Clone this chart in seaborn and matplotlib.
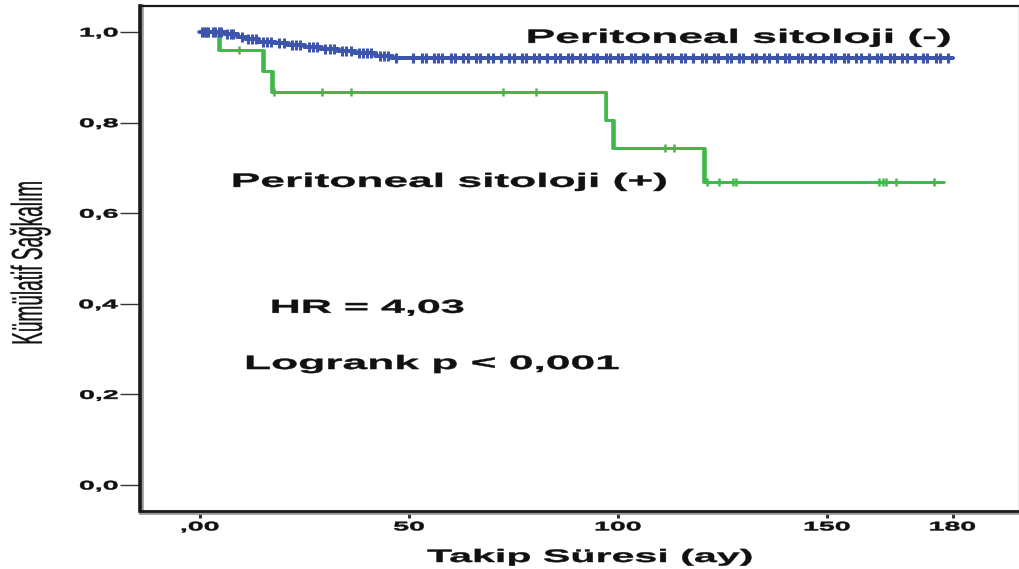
import numpy as np
import pandas as pd
import matplotlib
matplotlib.use("Agg")
import matplotlib.pyplot as plt
import seaborn as sns
from matplotlib.patheffects import AbstractPathEffect, Stroke, Normal
from matplotlib.transforms import Affine2D

# Kaplan-Meier steps: peritoneal cytology negative
neg_time = [0, 6, 9, 11, 14, 18, 21, 25, 29, 33, 37, 42, 46, 180]
neg_surv = [1.0, 0.995, 0.989, 0.984, 0.979, 0.975, 0.971, 0.967, 0.962, 0.957,
            0.953, 0.948, 0.942, 0.942]
neg_censor = [0.5, 1, 1.5, 2, 3, 3.5, 4.5, 5, 6.5, 7.5, 8, 10, 11.5, 12.5, 13.5,
              15, 16, 17, 19, 20, 22, 23, 24, 26, 27, 28, 30, 31, 32, 34, 35, 36,
              38, 39, 40, 41, 43, 44, 45, 47, 51, 53, 54, 56, 57, 58, 60, 61, 63,
              64, 66, 67, 69, 70, 72, 74, 75, 77, 78, 80, 81, 83, 85, 86, 88, 89,
              91, 92, 94, 95, 97, 98, 100, 101, 103, 104, 106, 107, 109, 110, 112,
              113, 115, 116, 118, 120, 121, 123, 124, 126, 127, 129, 130, 132, 133,
              135, 136, 138, 140, 141, 143, 144, 146, 147, 149, 151, 152, 154, 155,
              157, 158, 160, 162, 163, 165, 166, 168, 169, 171, 173, 174, 176, 177,
              179]

# Kaplan-Meier steps: peritoneal cytology positive
pos_time = [0, 4.5, 15, 17.3, 97, 98.8, 120.5, 177.8]
pos_surv = [1.0, 0.96, 0.913, 0.867, 0.805, 0.743, 0.669, 0.669]
pos_censor = [9.3, 17.8, 29.2, 36.1, 72.5, 80.4, 111.2, 113.4, 121.3, 124.2,
              127.5, 128.2, 162.4, 163.4, 164.1, 166.5, 175.6]

x_ticks = [0, 50, 100, 150, 180]
x_ticklabels = [",00", "50", "100", "150", "180"]
y_ticks = [0.0, 0.2, 0.4, 0.6, 0.8, 1.0]
y_ticklabels = ["0,0", "0,2", "0,4", "0,6", "0,8", "1,0"]

BLUE = "#3D55AD"
GREEN = "#3EB94B"
INK = "#111111"
SX = 2.28


class WideText(AbstractPathEffect):
    """Draw text glyphs stretched horizontally about an anchor of their outline,
    with an optional outline stroke to make them heavier."""

    def __init__(self, sx=SX, anchor="center", weight=0.0):
        super().__init__()
        self.sx = sx
        self.anchor = anchor
        self.weight = weight

    def draw_path(self, renderer, gc, tpath, affine, rgbFace=None):
        ext = tpath.get_extents(affine)
        if self.anchor == "right":
            x0 = ext.x1
        elif self.anchor == "left":
            x0 = ext.x0
        else:
            x0 = 0.5 * (ext.x0 + ext.x1)
        wide = affine + Affine2D().translate(-x0, 0).scale(self.sx, 1).translate(x0, 0)
        gc0 = renderer.new_gc()
        gc0.copy_properties(gc)
        gc0.set_linewidth(self.weight)
        if rgbFace is not None:
            gc0.set_foreground(rgbFace)
        renderer.draw_path(gc0, tpath, wide, rgbFace)
        gc0.restore()


def survival_at(times, surv, t):
    idx = np.searchsorted(np.asarray(times), np.asarray(t), side="right") - 1
    return np.asarray(surv)[idx]


sns.set_theme(style="white")
plt.rcParams["font.family"] = ["Liberation Sans", "DejaVu Sans"]

fig = plt.figure(figsize=(10.2, 5.69), dpi=100)
ax = fig.add_axes([140 / 1020, 58 / 569, 879 / 1020, 505 / 569])

pos_df = pd.DataFrame({"t": pos_time, "s": pos_surv})
neg_df = pd.DataFrame({"t": neg_time, "s": neg_surv})

green_fx = [Stroke(offset=(-0.7, 0)), Stroke(offset=(0.7, 0)), Normal()]
blue_fx = [Stroke(offset=(-0.6, 0)), Stroke(offset=(0.6, 0)), Normal()]

sns.lineplot(data=pos_df, x="t", y="s", drawstyle="steps-post", estimator=None,
             color=GREEN, lw=1.9, ax=ax, legend=False, path_effects=green_fx)
sns.scatterplot(x=pos_censor, y=survival_at(pos_time, pos_surv, pos_censor),
                marker="|", s=32, linewidth=1.8, color=GREEN, ax=ax, legend=False,
                zorder=3)

sns.lineplot(data=neg_df, x="t", y="s", drawstyle="steps-post", estimator=None,
             color=BLUE, lw=2.6, ax=ax, legend=False, path_effects=blue_fx, zorder=4)
sns.scatterplot(x=neg_censor, y=survival_at(neg_time, neg_surv, neg_censor),
                marker="|", s=44, linewidth=2.2, color=BLUE, ax=ax, legend=False,
                zorder=5)

ax.set_xlim(-14.35, 195.9)
ax.set_ylim(-0.0574, 1.0574)

ax.set_xticks(x_ticks)
ax.set_xticklabels(x_ticklabels, fontsize=9, fontweight="bold", color=INK)
ax.set_yticks(y_ticks)
ax.set_yticklabels(y_ticklabels, fontsize=9, fontweight="bold", color=INK)
ax.tick_params(axis="y", which="major", left=True, length=14.4, width=1.0,
               color="#333333", pad=1.4)
ax.tick_params(axis="x", which="major", bottom=True, length=5, width=2.2,
               color="#333333", pad=2.5)
for lbl in ax.get_yticklabels():
    lbl.set_path_effects([WideText(anchor="right", weight=0.35)])
for lbl in ax.get_xticklabels():
    lbl.set_path_effects([WideText(weight=0.35)])

# frame
for side, lw, col in [("left", 2.6, "#1a1a1a"), ("bottom", 2.0, "#1a1a1a"),
                      ("top", 1.6, "#1a1a1a"), ("right", 1.0, "#9a9a9a")]:
    ax.spines[side].set_visible(True)
    ax.spines[side].set_linewidth(lw)
    ax.spines[side].set_color(col)
ax.spines["left"].set_path_effects(
    [Stroke(offset=(1.3, 0), foreground="#9a9a9a"), Normal()])
ax.spines["bottom"].set_path_effects(
    [Stroke(offset=(0, -1.2), foreground="#9a9a9a"), Normal()])
ax.grid(False)

ax.set_xlabel("Takip Süresi (ay)", fontsize=13, fontweight="bold", color=INK,
              va="baseline")
ax.xaxis.set_label_coords((589.5 - 140) / 879, (511 - 562) / 505)
ax.xaxis.label.set_path_effects([WideText(weight=0.3)])

ax.set_ylabel("Kümülatif Sağkalım", fontsize=13.7, color=INK, va="center")
ax.yaxis.set_label_coords((31 - 140) / 879, (511 - 263.5) / 505)
ax.yaxis.label.set_path_effects([WideText(weight=0.2)])

notes = [
    ("Peritoneal sitoloji (-)", 128.9, 0.976, 14),
    ("Peritoneal sitoloji (+)", 59.7, 0.658, 14),
    ("HR = 4,03", 40.1, 0.380, 13.6),
    ("Logrank p < 0,001", 55.6, 0.256, 14),
]
for txt, tx, ty, fs in notes:
    ax.text(tx, ty, txt, fontsize=fs, fontweight="bold", color=INK,
            ha="center", va="baseline", path_effects=[WideText(weight=0.3)],
            zorder=6)

fig.savefig("out.png", dpi=100, facecolor="white")
